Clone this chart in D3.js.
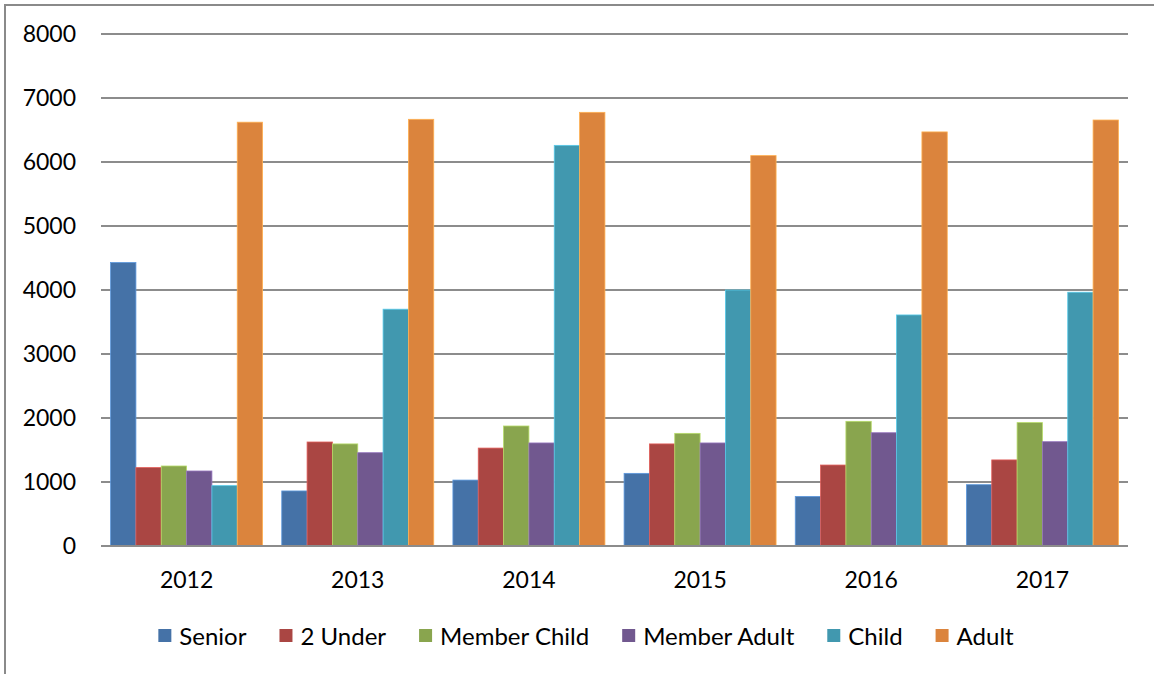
<!DOCTYPE html>
<html>
<head>
<meta charset="utf-8">
<script src="https://cdn.jsdelivr.net/npm/d3@7"></script>
<style>
  body { margin: 0; background: #fff; }
  text { font-family: Lato, "Open Sans", sans-serif; fill: #000; }
</style>
</head>
<body>
<div id="chart"></div>
<script>
var years = ["2012", "2013", "2014", "2015", "2016", "2017"];
var seriesNames = ["Senior", "2 Under", "Member Child", "Member Adult", "Child", "Adult"];
var colors = ["#4572A7", "#AA4643", "#89A54E", "#71588F", "#4198AF", "#DB843D"];
var senior      = [4430, 860, 1030, 1135, 775, 958];
var twoUnder    = [1225, 1625, 1530, 1595, 1265, 1345];
var memberChild = [1250, 1595, 1875, 1760, 1948, 1928];
var memberAdult = [1172, 1458, 1610, 1610, 1770, 1630];
var child       = [943, 3700, 6260, 4000, 3610, 3965];
var adult       = [6622, 6667, 6776, 6100, 6470, 6656];
var yTicks = [0, 1000, 2000, 3000, 4000, 5000, 6000, 7000, 8000];

var allSeries = [senior, twoUnder, memberChild, memberAdult, child, adult];

var svgWidth = 1154;
var svgHeight = 674;
var margin = { top: 34, right: 26, bottom: 128, left: 101 };
var chartWidth = svgWidth - margin.left - margin.right;
var chartHeight = svgHeight - margin.top - margin.bottom;

var svg = d3.select("#chart")
    .append("svg")
    .attr("width", svgWidth)
    .attr("height", svgHeight);

// outer frame (runs off the right and bottom edges)
svg.append("rect")
    .attr("x", 5).attr("y", 5)
    .attr("width", svgWidth + 20).attr("height", svgHeight + 20)
    .attr("fill", "none")
    .attr("stroke", "#8a8a8a")
    .attr("stroke-width", 2);

var chartGroup = svg.append("g")
    .attr("transform", `translate(${margin.left},${margin.top})`);

var x0 = d3.scaleBand().domain(years).range([0, chartWidth]);
var gap = x0.bandwidth() * 0.112 / 2;
var x1 = d3.scaleBand().domain(seriesNames).range([gap, x0.bandwidth() - gap]);
var y = d3.scaleLinear().domain([0, 8000]).range([chartHeight, 0]);

// gridlines
chartGroup.selectAll("line.grid")
    .data(yTicks)
    .enter()
    .append("line")
    .attr("x1", 0).attr("x2", chartWidth)
    .attr("y1", d => y(d)).attr("y2", d => y(d))
    .attr("stroke", "#8c8c8c")
    .attr("stroke-width", 2);

// y labels
chartGroup.selectAll("text.ytick")
    .data(yTicks)
    .enter()
    .append("text")
    .attr("x", -25)
    .attr("y", d => y(d))
    .attr("dy", "0.36em")
    .attr("text-anchor", "end")
    .style("font-size", "23px")
    .text(d => d);

// bars
var groups = chartGroup.selectAll("g.year")
    .data(years)
    .enter()
    .append("g")
    .attr("transform", d => `translate(${x0(d)},0)`);

groups.selectAll("rect")
    .data((yr, i) => seriesNames.map((s, j) => ({ s: s, v: allSeries[j][i], c: colors[j] })))
    .enter()
    .append("rect")
    .attr("x", d => x1(d.s))
    .attr("y", d => y(d.v))
    .attr("width", x1.bandwidth())
    .attr("height", d => y(0) - y(d.v))
    .attr("fill", d => d.c)
    .attr("stroke", d => d3.color(d.c).brighter(0.8))
    .attr("stroke-width", 0.8);

// baseline on top
chartGroup.append("line")
    .attr("x1", 0).attr("x2", chartWidth)
    .attr("y1", y(0)).attr("y2", y(0))
    .attr("stroke", "#8c8c8c")
    .attr("stroke-width", 2);

// x labels
chartGroup.selectAll("text.xtick")
    .data(years)
    .enter()
    .append("text")
    .attr("x", d => x0(d) + x0.bandwidth() / 2)
    .attr("y", chartHeight + 34)
    .attr("dy", "0.36em")
    .attr("text-anchor", "middle")
    .style("font-size", "23px")
    .text(d => d);

// legend
var legend = svg.append("g");
var items = legend.selectAll("g")
    .data(seriesNames)
    .enter()
    .append("g");
items.append("rect")
    .attr("width", 13).attr("height", 13)
    .attr("y", -7)
    .attr("fill", (d, i) => colors[i]);
items.append("text")
    .attr("x", 21)
    .attr("dy", "0.36em")
    .style("font-size", "24px")
    .text(d => d);

var pos = 0;
items.each(function() {
    var g = d3.select(this);
    g.attr("transform", `translate(${pos},0)`);
    pos += 21 + g.select("text").node().getComputedTextLength() + 33;
});
var legendWidth = pos - 33;
legend.attr("transform", `translate(${586 - legendWidth / 2},636)`);
</script>
</body>
</html>
